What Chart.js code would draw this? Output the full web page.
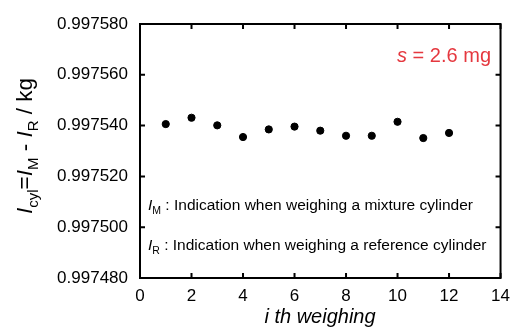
<!DOCTYPE html>
<html>
<head>
<meta charset="utf-8">
<script src="https://cdn.jsdelivr.net/npm/chart.js@4/dist/chart.umd.min.js"></script>
<style>
    html, body { margin: 0; padding: 0; background: #fff; }
    #wrap { width: 518px; height: 329px; }
</style>
</head>
<body>
<div id="wrap"><canvas id="weighChart" width="518" height="329"></canvas></div>
<script>
/* Repeated weighing of a cylinder */
const weighingNo = [1, 2, 3, 4, 5, 6, 7, 8, 9, 10, 11, 12];
const indication = [0.9975406, 0.9975431, 0.9975401, 0.9975355, 0.9975385, 0.9975396,
                    0.9975380, 0.9975360, 0.9975360, 0.9975415, 0.9975351, 0.9975371];
const xTicks = [0, 2, 4, 6, 8, 10, 12, 14];
const yTicks = [0.997480, 0.997500, 0.997520, 0.997540, 0.997560, 0.997580];

const FONT = '"Liberation Sans", Arial, Helvetica, sans-serif';
const RED = '#e5383f';

// draws a run of text pieces, some italic, some subscript
function drawRich(ctx, parts, x, y, size, subSize, align) {
    const fontOf = p => (p.it ? 'italic ' : '') + (p.sub ? subSize : size) + 'px ' + FONT;
    let w = 0;
    parts.forEach(p => { ctx.font = fontOf(p); w += ctx.measureText(p.t).width; });
    let cx = align === 'center' ? x - w / 2 : align === 'right' ? x - w : x;
    ctx.textAlign = 'left';
    ctx.textBaseline = 'alphabetic';
    parts.forEach(p => {
        ctx.font = fontOf(p);
        ctx.fillText(p.t, cx, y + (p.sub ? size * 0.28 : 0));
        cx += ctx.measureText(p.t).width;
    });
}

const framePlugin = {
    id: 'frame',
    afterDraw(chart) {
        const { ctx, chartArea: a, scales } = chart;
        ctx.save();
        ctx.strokeStyle = '#000';
        ctx.lineWidth = 2;
        ctx.strokeRect(a.left, a.top, a.right - a.left, a.bottom - a.top);
        // inward ticks on all four sides
        ctx.beginPath();
        xTicks.forEach(v => {
            const px = scales.x.getPixelForValue(v);
            ctx.moveTo(px, a.bottom); ctx.lineTo(px, a.bottom - 5);
            ctx.moveTo(px, a.top); ctx.lineTo(px, a.top + 5);
        });
        yTicks.forEach(v => {
            const py = scales.y.getPixelForValue(v);
            ctx.moveTo(a.left, py); ctx.lineTo(a.left + 5, py);
            ctx.moveTo(a.right, py); ctx.lineTo(a.right - 5, py);
        });
        ctx.stroke();

        ctx.fillStyle = '#000';
        // x title
        drawRich(ctx, [{ t: 'i th weighing', it: true }], 320, 323, 20, 13, 'center');
        // y title, rotated
        ctx.save();
        ctx.translate(32, 146);
        ctx.rotate(-Math.PI / 2);
        drawRich(ctx, [
            { t: 'I', it: true }, { t: 'cyl', sub: true }, { t: '=' },
            { t: 'I', it: true }, { t: 'M', sub: true }, { t: ' - ' },
            { t: 'I', it: true }, { t: 'R', sub: true }, { t: ' / kg' }
        ], 0, 0, 22.5, 15, 'center');
        ctx.restore();
        // notes
        drawRich(ctx, [{ t: 'I', it: true }, { t: 'M', sub: true },
            { t: ' : Indication when weighing a mixture cylinder' }], 148, 210, 15.5, 10.5, 'left');
        drawRich(ctx, [{ t: 'I', it: true }, { t: 'R', sub: true },
            { t: ' : Indication when weighing a reference cylinder' }], 148, 250, 15.5, 10.5, 'left');
        // std dev
        ctx.fillStyle = RED;
        drawRich(ctx, [{ t: 's', it: true }, { t: ' = 2.6 mg' }], 491, 62, 20, 14, 'right');
        ctx.restore();
    }
};

new Chart(document.getElementById('weighChart'), {
    type: 'scatter',
    data: {
        datasets: [{
            data: weighingNo.map((n, i) => ({ x: n, y: indication[i] })),
            backgroundColor: '#000',
            borderColor: '#000',
            pointRadius: 3.6,
            pointHoverRadius: 3.6,
        }]
    },
    options: {
        responsive: false,
        animation: false,
        devicePixelRatio: 1,
        layout: { padding: { left: 0, right: 10, top: 24, bottom: 0 } },
        plugins: { legend: { display: false }, tooltip: { enabled: false } },
        scales: {
            x: {
                type: 'linear', min: 0, max: 14,
                afterBuildTicks: s => { s.ticks = xTicks.map(v => ({ value: v })); },
                afterFit: s => { s.height = 51; },
                grid: { display: false, drawTicks: false },
                border: { display: false },
                ticks: { color: '#000', font: { family: FONT, size: 17 }, padding: 8, maxRotation: 0 },
            },
            y: {
                type: 'linear', min: 0.997480, max: 0.997580,
                afterBuildTicks: s => { s.ticks = yTicks.map(v => ({ value: v })); },
                afterFit: s => { s.width = 140; },
                grid: { display: false, drawTicks: false },
                border: { display: false },
                ticks: { color: '#000', font: { family: FONT, size: 17 }, padding: 12,
                         callback: v => Number(v).toFixed(6) },
            }
        }
    },
    plugins: [framePlugin]
});
</script>
</body>
</html>
